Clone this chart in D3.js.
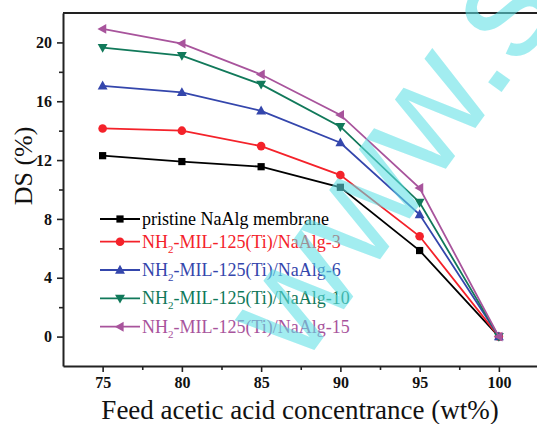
<!DOCTYPE html>
<html>
<head>
<meta charset="utf-8">
<script src="https://cdn.jsdelivr.net/npm/d3@7"></script>
<style>
  html, body { margin: 0; padding: 0; background: #fff; }
  svg { display: block; }
</style>
</head>
<body>
<svg id="chart" width="537" height="424"></svg>
<script>
// Feed acetic acid concentration (wt%)
const concentrations = [75, 80, 85, 90, 95, 100];

// Degree of swelling (%) for each membrane
const pristine = [12.3, 11.9, 11.55, 10.15, 5.85, 0];
const mil3     = [14.15, 14.0, 12.95, 10.98, 6.82, 0];
const mil6     = [17.05, 16.6, 15.35, 13.18, 8.3, 0];
const mil10    = [19.65, 19.1, 17.15, 14.27, 9.12, 0];
const mil15    = [20.92, 19.92, 17.82, 15.07, 10.1, 0];

const seriesNames = [
  "pristine NaAlg membrane",
  "NH2-MIL-125(Ti)/NaAlg-3",
  "NH2-MIL-125(Ti)/NaAlg-6",
  "NH2-MIL-125(Ti)/NaAlg-10",
  "NH2-MIL-125(Ti)/NaAlg-15"
];

const xMajorTicks = [75, 80, 85, 90, 95, 100];
const xMinorTicks = [77.5, 82.5, 87.5, 92.5, 97.5];
const yMajorTicks = [0, 4, 8, 12, 16, 20];
const yMinorTicks = [2, 6, 10, 14, 18];

const xTitle = "Feed acetic acid concentrance (wt%)";
const yTitle = "DS (%)";
const watermark = "www.s";

const seriesValues = [pristine, mil3, mil6, mil10, mil15];
const colors = ["#000000", "#f4222a", "#3446ac", "#11795a", "#a8549c"];
const symbols = [d3.symbolSquare, d3.symbolCircle, "triUp", "triDown", "triLeft"];

const svg = d3.select("#chart");
const serif = "'Liberation Serif', 'Times New Roman', serif";

const x = d3.scaleLinear().domain([72.5, 102.5]).range([63, 538.5]);
const y = d3.scaleLinear().domain([-2, 22]).range([366, 13]);

// plot frame (top edge; the right edge falls outside the canvas)
svg.append("line")
  .attr("x1", x(72.5)).attr("x2", x(102.5))
  .attr("y1", y(22)).attr("y2", y(22))
  .attr("stroke", "#222").attr("stroke-width", 2);

// axes
function styleAxis(g) {
  g.attr("font-family", serif);
  g.select(".domain").attr("stroke", "#222").attr("stroke-width", 2);
  g.selectAll(".tick line").attr("stroke", "#222").attr("stroke-width", 1.6);
  g.selectAll(".tick text")
    .attr("font-family", serif).attr("font-weight", "bold")
    .attr("font-size", 16).attr("fill", "#111");
}

svg.append("g").attr("transform", `translate(0,${y(-2)})`)
  .call(d3.axisBottom(x).tickValues(xMajorTicks).tickSize(6).tickPadding(5).tickSizeOuter(0))
  .call(styleAxis);
svg.append("g").attr("transform", `translate(0,${y(-2)})`)
  .call(d3.axisBottom(x).tickValues(xMinorTicks).tickSize(4).tickFormat("").tickSizeOuter(0))
  .call(g => g.select(".domain").remove())
  .call(g => g.selectAll(".tick line").attr("stroke", "#222").attr("stroke-width", 1.6));

svg.append("g").attr("transform", `translate(${x(72.5)},0)`)
  .call(d3.axisLeft(y).tickValues(yMajorTicks).tickSize(6).tickPadding(5).tickSizeOuter(0))
  .call(styleAxis);
svg.append("g").attr("transform", `translate(${x(72.5)},0)`)
  .call(d3.axisLeft(y).tickValues(yMinorTicks).tickSize(4).tickFormat("").tickSizeOuter(0))
  .call(g => g.select(".domain").remove())
  .call(g => g.selectAll(".tick line").attr("stroke", "#222").attr("stroke-width", 1.6));

// axis titles
svg.append("text")
  .attr("x", 300).attr("y", 419)
  .attr("text-anchor", "middle")
  .attr("font-family", serif).attr("font-size", 27).attr("fill", "#111")
  .text(xTitle);

svg.append("text")
  .attr("transform", "translate(32,166) rotate(-90)")
  .attr("text-anchor", "middle")
  .attr("font-family", serif).attr("font-size", 26).attr("fill", "#111")
  .text(yTitle);

// marker path generator
function markerPath(kind, size) {
  if (kind === "triUp" || kind === "triDown" || kind === "triLeft") {
    const r = size;
    const pts = [[0, -r], [r * 0.95, r * 0.7], [-r * 0.95, r * 0.7]];
    const ang = kind === "triUp" ? 0 : kind === "triDown" ? 180 : -90;
    const a = ang * Math.PI / 180;
    const rot = pts.map(([px, py]) => [px * Math.cos(a) - py * Math.sin(a), px * Math.sin(a) + py * Math.cos(a)]);
    return "M" + rot.map(p => p.join(",")).join("L") + "Z";
  }
  const area = kind === d3.symbolSquare ? 52 : 58;
  return d3.symbol().type(kind).size(area)();
}

const line = d3.line().x(d => x(d[0])).y(d => y(d[1]));

seriesValues.forEach((vals, i) => {
  const pts = concentrations.map((c, j) => [c, vals[j]]);
  svg.append("path")
    .datum(pts)
    .attr("d", line)
    .attr("fill", "none")
    .attr("stroke", colors[i])
    .attr("stroke-width", 1.8);
  svg.append("g").selectAll("path")
    .data(pts)
    .join("path")
    .attr("transform", d => `translate(${x(d[0])},${y(d[1])})`)
    .attr("d", markerPath(symbols[i], 5.2))
    .attr("fill", colors[i]);
});

// legend
const legendRows = [219, 241.7, 270, 298.3, 326.7];
seriesNames.forEach((name, i) => {
  const ly = legendRows[i];
  svg.append("line")
    .attr("x1", 100).attr("x2", 140).attr("y1", ly).attr("y2", ly)
    .attr("stroke", colors[i]).attr("stroke-width", 1.8);
  svg.append("path")
    .attr("transform", `translate(120,${ly})`)
    .attr("d", markerPath(symbols[i], 5.2))
    .attr("fill", colors[i]);
  const t = svg.append("text")
    .attr("x", 142).attr("y", ly + 6)
    .attr("font-family", serif).attr("font-size", 18)
    .attr("fill", colors[i]);
  if (name.startsWith("NH2")) {
    t.append("tspan").text("NH");
    t.append("tspan").attr("font-size", 11).attr("dy", 5).text("2");
    t.append("tspan").attr("dy", -5).text(name.slice(3));
  } else {
    t.text(name);
  }
});

// diagonal watermark text
const wm = svg.append("text")
  .attr("font-family", "'Liberation Sans', Arial, sans-serif")
  .attr("font-size", 155)
  .attr("fill", "#5ee0e6")
  .attr("fill-opacity", 0.58)
  .text(watermark);
const node = wm.node();
const toDot = node.getSubStringLength(0, 3) + node.getSubStringLength(3, 1) / 2;
wm.attr("x", -toDot).attr("y", 0)
  .attr("transform", "translate(506,86) rotate(-54)");
</script>
</body>
</html>
